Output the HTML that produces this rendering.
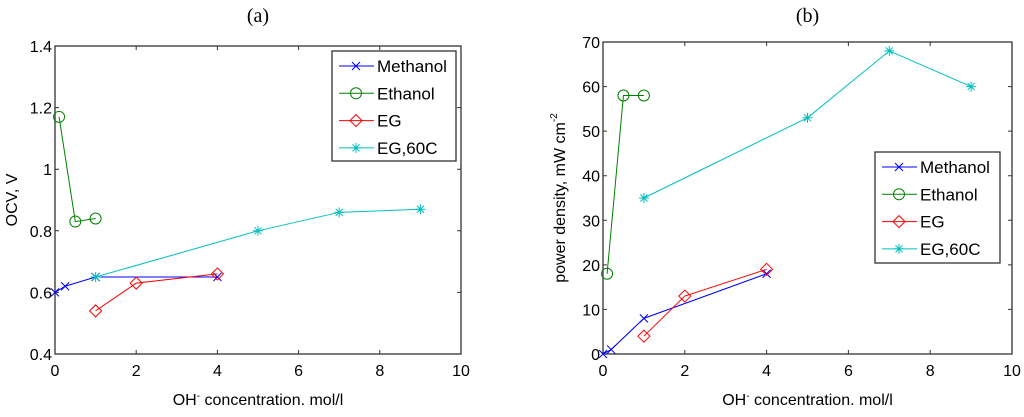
<!DOCTYPE html>
<html><head><meta charset="utf-8"><style>
body{margin:0;background:#fff;width:1024px;height:412px;overflow:hidden}
svg text{font-family:"Liberation Sans",sans-serif;fill:#000}
</style></head><body>
<svg id="svg" width="1024" height="412" xmlns="http://www.w3.org/2000/svg"></svg>
<script>
const seriesNames=["Methanol","Ethanol","EG","EG,60C"];
const colors=["#0000ff","#008000","#ff0000","#00bfbf"];
const markers=["x","o","d","*"];
const xTicks=[0,2,4,6,8,10];
const aX=[[0,0.25,1,4],[0.1,0.5,1],[1,2,4],[1,5,7,9]];
const aY=[[0.6,0.62,0.65,0.65],[1.17,0.83,0.84],[0.54,0.63,0.66],[0.65,0.80,0.86,0.87]];
const aTicks=[0.4,0.6,0.8,1,1.2,1.4];
const bX=[[0,0.2,1,4],[0.1,0.5,1],[1,2,4],[1,5,7,9]];
const bY=[[0,1,8,18],[18,58,58],[4,13,19],[35,53,68,60]];
const bTicks=[0,10,20,30,40,50,60,70];
const NS="http://www.w3.org/2000/svg";
const svg=document.getElementById('svg');
function el(t,a,p){const e=document.createElementNS(NS,t);for(const k in a)e.setAttribute(k,a[k]);(p||svg).appendChild(e);return e;}
function marker(g,m,x,y,c){
 if(m==="x"){el('path',{d:`M${x-4},${y-4}L${x+4},${y+4}M${x-4},${y+4}L${x+4},${y-4}`,stroke:c,fill:'none'},g);}
 else if(m==="o"){el('circle',{cx:x,cy:y,r:5.5,stroke:c,fill:'none'},g);}
 else if(m==="d"){el('path',{d:`M${x},${y-6}L${x+6},${y}L${x},${y+6}L${x-6},${y}Z`,stroke:c,fill:'none'},g);}
 else {el('path',{d:`M${x-5},${y}L${x+5},${y}M${x},${y-5}L${x},${y+5}M${x-3.5},${y-3.5}L${x+3.5},${y+3.5}M${x-3.5},${y+3.5}L${x+3.5},${y-3.5}`,stroke:c,fill:'none'},g);}
}
function chart(name,L,R,T,B,ymin,ymax,yt,xs,ys,title,ylabel,leg){
 const g=el('g',{});
 
 
 const sx=v=>L+(v-0)/10*(R-L), sy=v=>B-(v-ymin)/(ymax-ymin)*(B-T);
 const t=el('text',{x:(L+R)/2,y:22,'text-anchor':'middle','font-size':20,style:'font-family:"Liberation Serif",serif'},g);t.textContent=title;
 
 el('rect',{x:L,y:T,width:R-L,height:B-T,fill:'#fff',stroke:'#333','stroke-width':1.3},g);
 xTicks.forEach(v=>{const x=sx(v);el('path',{d:`M${x},${B}v-4M${x},${T}v4`,stroke:'#333'},g);
  const tx=el('text',{x:x,y:B+22,'text-anchor':'middle','font-size':16},g);tx.textContent=v;
  });
 yt.forEach(v=>{const y=sy(v);el('path',{d:`M${L},${y}h4M${R},${y}h-4`,stroke:'#333'},g);
  const tx=el('text',{x:L-3,y:y+6,'text-anchor':'end','font-size':16},g);tx.textContent=v;
  });
 const xl=el('text',{x:(L+R)/2,y:405,'text-anchor':'middle','font-size':16},g);
 xl.innerHTML='OH<tspan dy="-6" font-size="10">-</tspan><tspan dy="6"> concentration. mol/l</tspan>';
 
 const yl=el('text',{x:0,y:0,'text-anchor':'middle','font-size':16,transform:`translate(${L-38},${(T+B)/2}) rotate(-90)`},g);
 yl.innerHTML=ylabel;
 
 xs.forEach((arr,i)=>{
  const sg=el('g',{},g);
  
  
  el('polyline',{points:arr.map((v,j)=>sx(v)+','+sy(ys[i][j])).join(' '),fill:'none',stroke:colors[i]},sg);
  arr.forEach((v,j)=>marker(sg,markers[i],sx(v),sy(ys[i][j]),colors[i]));
 });
 const lg=el('g',{},g);
 
 el('rect',{x:leg[0],y:leg[1],width:leg[2],height:leg[3],fill:'#fff',stroke:'#333','stroke-width':1.3},lg);
 seriesNames.forEach((n,i)=>{const y=leg[1]+15+i*27.3;
  const eg=el('g',{},lg);
  el('path',{d:`M${leg[0]+7},${y}h35`,stroke:colors[i]},eg);marker(eg,markers[i],leg[0]+24,y,colors[i]);
  const tx=el('text',{x:leg[0]+45,y:y+6,'font-size':17},eg);tx.textContent=n;});
}
chart('chart-a-ocv',55,461,46,354,0.4,1.4,aTicks,aX,aY,'(a)','OCV, V',[332,51,124,110]);
chart('chart-b-power',603,1012,42,354,0,70,bTicks,bX,bY,'(b)','power density, mW cm<tspan dy="-8" font-size="10">-2</tspan>',[875,152,125,111]);
</script>
</body></html>
